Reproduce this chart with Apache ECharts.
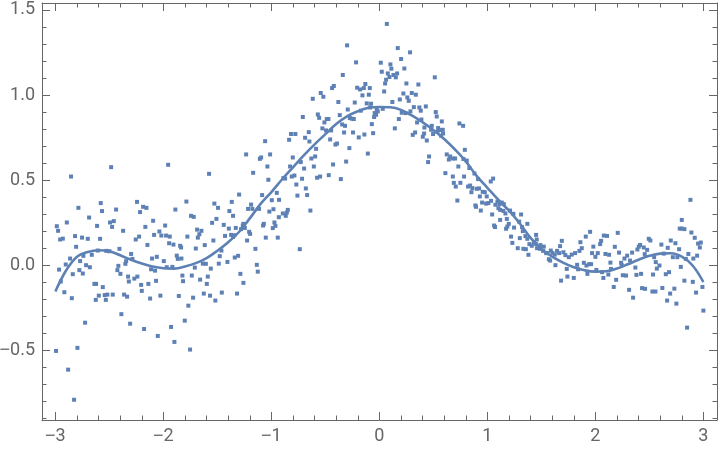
<!DOCTYPE html>
<html>
<head>
<meta charset="utf-8">
<script src="https://cdn.jsdelivr.net/npm/echarts@6/dist/echarts.min.js"></script>
<style>
html,body{margin:0;padding:0;background:#fff;}
#chart{width:720px;height:451px;}
</style>
</head>
<body>
<div id="chart"></div>
<script>
// ---- tick labels ----
var xTicks = [-3, -2, -1, 0, 1, 2, 3];
var xTickLabels = ['\u22123', '\u22122', '\u22121', '0', '1', '2', '3'];
var yTicks = [-0.5, 0, 0.5, 1, 1.5];
var yTickLabels = ['\u22120.5', '0.0', '0.5', '1.0', '1.5'];

// ---- scatter data (x, y) ----
var scatterLeftUpper = [[-2.987,0.229],[-2.975,0.202],[-2.956,0.151],[-2.931,0.156],[-2.894,0.251],[-2.855,0.521],[-2.818,0.171],[-2.808,0.108],[-2.864,0.039],[-2.904,0.004],[-2.966,-0.026],[-2.839,-0.053],[-2.95,-0.096],[-2.787,0.337],[-2.753,0.162],[-2.7,0.155],[-2.688,0.28],[-2.741,0.055],[-2.771,0.024],[-2.716,0],[-2.681,-0.012],[-2.778,-0.029],[-2.746,-0.049],[-2.663,0.061],[-2.639,-0.11],[-2.623,-0.11],[-2.614,0.231],[-2.586,0.155],[-2.58,0.365],[-2.568,0.318],[-2.561,-0.129],[-2.607,0.086],[-2.528,0.084],[-2.5,0.082],[-2.484,0.576],[-2.494,0.251],[-2.459,0.259],[-2.475,0.225],[-2.438,0.327],[-2.407,0.096],[-2.373,0.202],[-2.426,-0.029],[-2.417,-0.004],[-2.398,-0.051],[-2.345,0.024],[-2.352,0.008],[-2.327,-0.067],[-2.32,-0.096],[-2.299,0.066],[-2.287,0.037],[-2.269,-0.079],[-2.241,-0.067],[-2.256,0.151],[-2.244,0.372],[-2.225,0.168],[-2.216,0.312],[-2.206,-0.116],[-2.188,0.343],[-2.157,0.337],[-2.167,0.225],[-2.148,0.119],[-2.139,-0.11],[-2.095,0.261],[-2.105,0.039],[-2.086,0.178],[-2.061,0.049],[-2.114,-0.024],[-2.077,-0.032],[-2.068,-0.092],[-2.037,0.198],[-2.019,0.174],[-1.984,0.233],[-1.975,0.174],[-1.941,0.168],[-1.956,0.59],[-1.947,0.129],[-1.996,0.024],[-1.969,-0.012],[-1.917,-0.01],[-1.907,0.121],[-1.889,0.327],[-1.876,0.056],[-1.867,0.037],[-1.833,0.039],[-1.845,0.114],[-1.836,0.104],[-1.824,-0.061],[-1.818,-0.094],[-1.787,0.374],[-1.778,0.168],[-1.744,0.29],[-1.719,0.284],[-1.737,-0.061],[-1.709,-0.014],[-1.7,0.098],[-1.688,0.209],[-1.681,0.162],[-1.667,0.182],[-1.648,0.202],[-1.66,-0.085],[-1.635,0.009],[-1.607,0.008],[-1.617,0.118],[-1.598,-0.11],[-1.589,-0.067],[-1.577,0.537],[-1.561,-0.02],[-1.549,0.249],[-1.537,0.145],[-1.528,0.362],[-1.509,0.272],[-1.494,0.337],[-1.487,0.009],[-1.478,0.053],[-1.463,0.086],[-1.441,0.237],[-1.429,0.172],[-1.407,0.019],[-1.394,0.215],[-1.389,0.318],[-1.367,0.372],[-1.355,0.29],[-1.373,0.178],[-1.355,0.166],[-1.343,0.176],[-1.33,0.219],[-1.339,0.045],[-1.308,0.055],[-1.299,0.415],[-1.287,-0.051],[-1.281,0.212],[-1.265,0.233],[-1.259,0.243],[-1.246,0.219],[-1.259,-0.104],[-1.234,0.651],[-1.225,0.145],[-1.216,0.331],[-1.206,0.196],[-1.197,0.184],[-1.188,0.356],[-1.176,0.331],[-1.169,0.543],[-1.148,0.096],[-1.135,0.002],[-1.126,-0.038],[-1.114,0.331],[-1.107,0.625],[-1.095,0.633],[-1.086,0.412],[-1.077,0.233],[-1.07,0.243],[-1.058,0.729],[-1.052,0.162],[-1.037,0.58],[-1.028,0.502],[-1.012,0.651],[-1.019,0.315],[-0.996,0.382],[-0.981,0.329],[-0.987,0.218],[-0.972,0.251],[-0.963,0.231],[-0.95,0.425],[-0.941,0.162],[-0.931,0.282],[-0.929,0.384]];

var scatterLeftLower = [[-2.917,-0.159],[-2.848,-0.194],[-2.725,-0.338],[-2.994,-0.504],[-2.796,-0.486],[-2.882,-0.614],[-2.827,-0.791],[-2.626,-0.204],[-2.598,-0.179],[-2.543,-0.176],[-2.533,-0.204],[-2.519,-0.173],[-2.469,-0.173],[-2.389,-0.288],[-2.364,-0.173],[-2.336,-0.185],[-2.308,-0.344],[-2.2,-0.151],[-2.179,-0.375],[-2.123,-0.196],[-2.052,-0.416],[-2.028,-0.179],[-1.929,-0.363],[-1.898,-0.451],[-1.857,-0.181],[-1.802,-0.326],[-1.769,-0.238],[-1.753,-0.496],[-1.725,-0.191],[-1.626,-0.167],[-1.568,-0.179],[-1.519,-0.208],[-1.459,-0.161],[-1.318,-0.167]];

var scatterCenterTop = [[0.069,1.418],[-0.299,1.292],[0.17,1.276],[0.284,1.251],[-0.216,1.192],[0.013,1.19],[0.201,1.212],[0.102,1.18],[0.111,1.155],[0.231,1.156],[0.022,1.137],[0.078,1.127],[0.13,1.118],[0.164,1.127],[0.152,1.104],[0.093,1.106],[-0.339,1.118],[0.513,1.104],[0.062,1.09],[0.053,1.068],[0.25,1.068],[0.361,1.062],[-0.422,1.053],[-0.438,1.041],[-0.13,1.065],[-0.206,1.043],[-0.179,1.033],[-0.144,1.041],[-0.089,1.041],[0.044,1.021],[0.222,1.009],[0.3,1.012],[0.337,1.002],[-0.543,1.012],[-0.519,0.99],[-0.617,0.978],[-0.157,0.998],[-0.098,1.002],[0.259,0.986],[0.272,0.966],[0.189,0.974],[-0.38,0.959],[-0.228,0.956],[-0.117,0.951],[-0.077,0.949],[0.12,0.959],[-0.293,0.915],[-0.172,0.908],[-0.086,0.927],[-0.024,0.914],[-0.015,0.904],[0.031,0.919],[0.319,0.929],[0.37,0.927],[0.43,0.933],[0.383,0.908],[0.287,0.904],[0.207,0.896],[0.241,0.894],[0.522,0.9],[-0.709,0.871],[-0.57,0.886],[-0.558,0.866],[-0.487,0.859],[-0.472,0.859],[-0.367,0.882],[-0.256,0.861],[-0.237,0.859],[-0.274,0.865],[-0.043,0.894],[-0.049,0.871],[-0.031,0.884],[0.18,0.859],[0.389,0.856],[0.531,0.874],[-0.509,0.839],[-0.345,0.827],[-0.318,0.819],[-0.07,0.829],[0.349,0.839],[0.578,0.845],[-0.528,0.804],[-0.494,0.792],[-0.447,0.792],[0.143,0.804],[0.417,0.809],[0.485,0.819],[0.479,0.796],[0.544,0.806],[0.587,0.796],[0.741,0.833],[0.775,0.819],[-0.818,0.771],[-0.778,0.771],[-0.654,0.782],[-0.327,0.78],[-0.244,0.78],[-0.139,0.768],[-0.058,0.776],[0.331,0.78],[0.309,0.766],[0.414,0.774],[0.402,0.755],[0.497,0.771],[0.537,0.784],[0.562,0.794],[0.59,0.774],[0.571,0.761],[-0.836,0.737],[-0.688,0.749],[-0.648,0.727],[-0.456,0.739],[-0.191,0.751],[-0.407,0.709],[-0.392,0.715],[-0.586,0.684],[-0.278,0.688],[0.439,0.733],[0.791,0.678]];

var scatterCenterMid = [[-0.802,0.633],[-0.728,0.606],[-0.63,0.627],[-0.595,0.639],[-0.429,0.592],[-0.308,0.609],[-0.107,0.656],[-0.827,0.58],[-0.697,0.568],[-0.607,0.58],[-0.811,0.521],[-0.787,0.527],[-0.889,0.512],[-0.873,0.509],[-0.716,0.508],[-0.577,0.514],[-0.549,0.521],[-0.469,0.529],[-0.357,0.506],[-0.769,0.474],[-0.681,0.451],[-0.759,0.409],[-0.669,0.412],[-0.848,0.325],[-0.857,0.309],[-0.639,0.321],[-0.894,0.304],[-0.867,0.29],[-0.737,0.094],[0.46,0.639],[0.451,0.606],[0.624,0.651],[0.655,0.639],[0.643,0.621],[0.68,0.627],[0.701,0.627],[0.778,0.624],[0.809,0.615],[0.731,0.58],[0.833,0.571],[0.611,0.541],[0.68,0.521],[0.784,0.521],[0.88,0.539],[0.914,0.506],[0.689,0.484],[0.75,0.484],[0.707,0.462],[0.821,0.462],[0.84,0.468],[0.861,0.453],[0.902,0.449],[0.923,0.451],[0.852,0.429],[0.957,0.431],[0.976,0.429],[0.93,0.404],[0.994,0.404],[0.722,0.38],[0.951,0.368],[0.988,0.362],[1.009,0.365],[0.889,0.351],[0.895,0.343],[0.939,0.321]];

var scatterRight = [[1.053,0.509],[1.031,0.492],[1.034,0.378],[1.074,0.355],[1.093,0.374],[1.111,0.359],[1.133,0.368],[1.152,0.359],[1.044,0.298],[1.102,0.335],[1.118,0.325],[1.148,0.319],[1.167,0.304],[1.21,0.321],[1.241,0.302],[1.312,0.298],[1.18,0.272],[1.118,0.266],[1.198,0.243],[1.185,0.227],[1.173,0.214],[1.062,0.233],[1.071,0.224],[1.294,0.256],[1.247,0.221],[1.321,0.224],[1.328,0.2],[1.37,0.243],[1.219,0.168],[1.3,0.159],[1.352,0.171],[1.37,0.155],[1.231,0.131],[1.281,0.1],[1.333,0.096],[1.356,0.094],[1.389,0.124],[1.451,0.178],[1.457,0.151],[1.43,0.135],[1.448,0.125],[1.411,0.114],[1.38,0.061],[1.46,0.1],[1.491,0.118],[1.488,0.096],[1.522,0.109],[1.544,0.071],[1.556,0.071],[1.516,0.084],[1.587,0.086],[1.602,0.072],[1.569,0.035],[1.581,0.027],[1.624,0.062],[1.63,0],[1.645,0.084],[1.664,0.071],[1.673,0.112],[1.689,0.143],[1.682,-0.091],[1.704,0.076],[1.722,0.059],[1.735,-0.022],[1.754,0.047],[1.741,-0.067],[1.781,0.062],[1.8,-0.075],[1.812,0.071],[1.831,0.002],[1.84,-0.024],[1.852,0.084],[1.861,0.135],[1.874,0.1],[1.893,0.014],[1.911,0.168],[1.951,0.196],[1.917,-0.002],[1.926,-0.051],[1.942,0.006],[1.96,0.006],[1.969,0.071],[1.981,0.109],[2.0,0.049],[2.009,-0.028],[2.022,0.071],[2.044,0.124],[2.053,0.143],[2.062,-0.041],[2.078,0.174],[2.108,0.172],[2.074,-0.075],[2.093,0.066],[2.127,0.061],[2.12,-0.055],[2.139,0.015],[2.145,-0.022],[2.17,-0.128],[2.18,0.108],[2.192,-0.086],[2.207,0.19],[2.219,0.074],[2.244,0],[2.238,0.014],[2.254,-0.059],[2.269,0.039],[2.284,-0.061],[2.294,0.056],[2.312,-0.145],[2.321,0.027],[2.34,0.074],[2.37,-0.014],[2.38,-0.057],[2.389,0.092],[2.402,0.109],[2.414,0.119],[2.423,-0.051],[2.432,-0.135],[2.46,-0.139],[2.448,0.104],[2.457,0.065],[2.479,0.09],[2.494,0.155],[2.509,0.145],[2.534,-0.055],[2.544,0.047],[2.559,0.018],[2.569,-0.02],[2.593,-0.002],[2.611,0.121],[2.62,-0.134],[2.633,0.068],[2.652,-0.053],[2.67,0.102],[2.682,-0.041],[2.698,0.145],[2.717,0.047],[2.731,-0.138],[2.741,0.129],[2.759,0.047],[2.775,0.094],[2.781,0.215],[2.8,0.215],[2.824,0.212],[2.8,0.266],[2.791,-0.01],[2.824,-0.091],[2.837,0.037],[2.861,0.066],[2.88,0.384],[2.889,0.192],[2.902,-0.098],[2.907,0.039],[2.92,0.161],[2.942,0.056],[2.951,0.127],[2.976,0.133],[2.967,0.104],[2.991,-0.128],[2.349,-0.191],[2.528,-0.155],[2.556,-0.155],[2.664,-0.208],[2.692,-0.167],[2.75,-0.226],[2.849,-0.367],[2.932,-0.161],[3.0,-0.267]];

// ---- fitted curve ----
var fitX = [-3.0,-2.9,-2.8,-2.7,-2.6,-2.5,-2.4,-2.3,-2.2,-2.1,-2.0,-1.9,-1.8,-1.7,-1.6,-1.5,-1.4,-1.3,-1.2,-1.1,-1.0,-0.9,-0.8,-0.7,-0.6,-0.5,-0.4,-0.3,-0.2,-0.1,0.0,0.1,0.2,0.3,0.4,0.5,0.6,0.7,0.8,0.9,1.0,1.1,1.2,1.3,1.4,1.5,1.6,1.7,1.8,1.9,2.0,2.1,2.2,2.3,2.4,2.5,2.6,2.7,2.8,2.9,3.0];
var fitY = [-0.155,-0.03,0.05,0.078,0.088,0.082,0.058,0.032,0.01,-0.008,-0.018,-0.02,-0.008,0.012,0.042,0.085,0.135,0.195,0.275,0.36,0.43,0.505,0.575,0.645,0.71,0.77,0.83,0.875,0.905,0.925,0.93,0.928,0.913,0.88,0.84,0.795,0.742,0.68,0.61,0.525,0.455,0.385,0.32,0.245,0.16,0.095,0.05,0.015,-0.012,-0.03,-0.038,-0.036,-0.02,0.005,0.032,0.055,0.068,0.07,0.05,-0.002,-0.10];

// ---- build ----
var BLUE = '#5E81B5';
var FRAME = '#666666';
var LABEL = '#666666';
var xMin = -3.124, xMax = 3.126, yMin = -0.91, yMax = 1.541;

function minorList(lo, hi, step, majors) {
  var out = [];
  var n0 = Math.ceil(lo / step - 1e-9), n1 = Math.floor(hi / step + 1e-9);
  for (var i = n0; i <= n1; i++) {
    var v = Math.round(i * step * 1000) / 1000;
    var isMajor = majors.some(function (m) { return Math.abs(m - v) < 1e-6; });
    if (!isMajor) out.push(v);
  }
  return out;
}
var xMinor = minorList(xMin, xMax, 0.2, xTicks);
var yMinor = minorList(yMin, yMax, 0.1, yTicks);

function labelFor(ticks, labels) {
  return function (v) {
    for (var i = 0; i < ticks.length; i++) {
      if (Math.abs(ticks[i] - v) < 1e-6) {
        var s = labels[i];
        if (s.charAt(0) === '\u2212') return '{m|\u2212}{d|' + s.slice(1) + '}';
        return '{d|' + s + '}';
      }
    }
    return '';
  };
}
var labelRich = {
  m: { fontFamily: 'Liberation Sans', fontSize: 18, color: LABEL },
  d: { fontFamily: 'Roboto', fontSize: 18, color: LABEL }
};

function xAxisDef(pos, major, showLabel, showLine) {
  return {
    type: 'value', position: pos, min: xMin, max: xMax, offset: 0,
    axisLine: { show: showLine, onZero: false, lineStyle: { color: FRAME, width: 1 } },
    axisTick: { show: true, inside: true, length: major ? 8 : 4.5, customValues: major ? xTicks : xMinor,
                lineStyle: { color: FRAME, width: 1 } },
    axisLabel: { show: showLabel, customValues: xTicks, formatter: labelFor(xTicks, xTickLabels),
                 color: LABEL, fontFamily: 'Roboto', fontSize: 18, margin: 7, rich: labelRich },
    splitLine: { show: false }, minorTick: { show: false }
  };
}
function yAxisDef(pos, major, showLabel, showLine) {
  return {
    type: 'value', position: pos, min: yMin, max: yMax, offset: 0,
    axisLine: { show: showLine, onZero: false, lineStyle: { color: FRAME, width: 1 } },
    axisTick: { show: true, inside: true, length: major ? 8 : 4.5, customValues: major ? yTicks : yMinor,
                lineStyle: { color: FRAME, width: 1 } },
    axisLabel: { show: showLabel, customValues: yTicks, formatter: labelFor(yTicks, yTickLabels),
                 color: LABEL, fontFamily: 'Roboto', fontSize: 18, margin: 7, rich: labelRich },
    splitLine: { show: false }, minorTick: { show: false }
  };
}

var allPoints = [].concat(scatterLeftUpper, scatterLeftLower, scatterCenterTop, scatterCenterMid, scatterRight);
var fitData = fitX.map(function (x, i) { return [x, fitY[i]]; });

var chart = echarts.init(document.getElementById('chart'), null, { renderer: 'canvas' });
chart.setOption({
  animation: false,
  backgroundColor: '#ffffff',
  grid: { left: 42, right: 3, top: 3, bottom: 31, containLabel: false, outerBoundsMode: 'none' },
  xAxis: [
    xAxisDef('bottom', true, true, true),
    xAxisDef('bottom', false, false, false),
    xAxisDef('top', true, false, true),
    xAxisDef('top', false, false, false)
  ],
  yAxis: [
    yAxisDef('left', true, true, true),
    yAxisDef('left', false, false, false),
    yAxisDef('right', true, false, true),
    yAxisDef('right', false, false, false)
  ],
  series: [
    {
      type: 'scatter', xAxisIndex: 0, yAxisIndex: 0,
      symbol: 'rect', symbolSize: 4,
      itemStyle: { color: BLUE, opacity: 1 },
      data: allPoints, z: 2
    },
    {
      type: 'line', xAxisIndex: 0, yAxisIndex: 0,
      data: fitData, smooth: 0.4, showSymbol: false,
      lineStyle: { color: BLUE, width: 2.6 },
      itemStyle: { color: BLUE }, z: 3
    }
  ]
});
</script>
</body>
</html>
